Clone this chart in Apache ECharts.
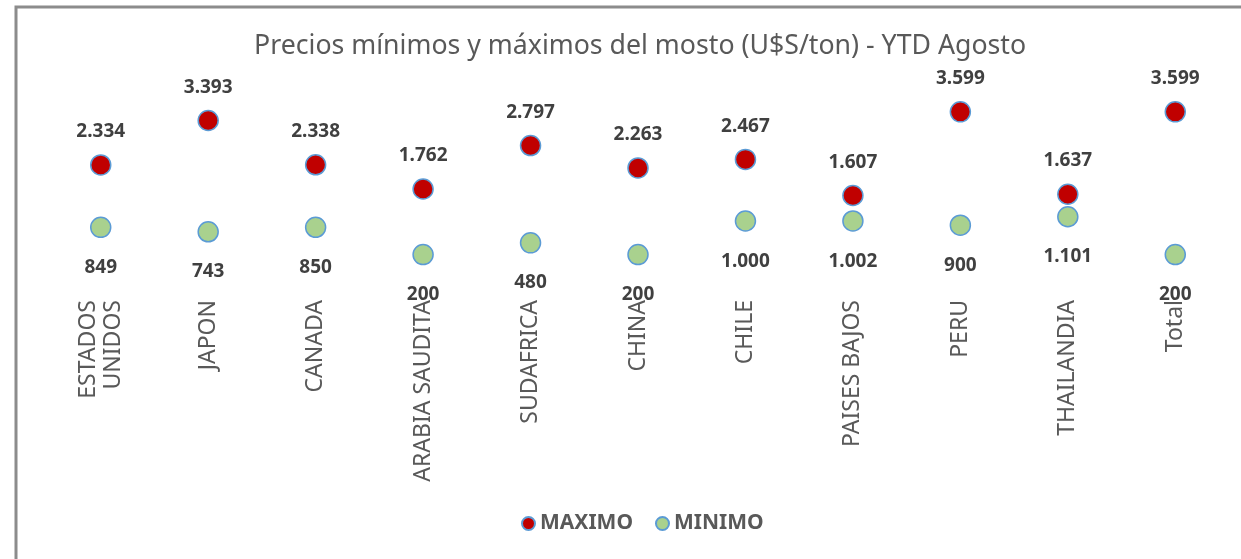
<!DOCTYPE html>
<html>
<head>
<meta charset="utf-8">
<script src="https://cdn.jsdelivr.net/npm/echarts@6/dist/echarts.min.js"></script>
<style>
html, body { margin: 0; padding: 0; background: #fff; }
#main { width: 1241px; height: 559px; }
</style>
</head>
<body>
<div id="main"></div>
<script type="text/javascript">
// datos del grafico
var paises = ['ESTADOS\nUNIDOS', 'JAPON', 'CANADA', 'ARABIA SAUDITA', 'SUDAFRICA', 'CHINA', 'CHILE', 'PAISES BAJOS', 'PERU', 'THAILANDIA', 'Total'];
var maximo = [2334, 3393, 2338, 1762, 2797, 2263, 2467, 1607, 3599, 1637, 3599];
var minimo = [849, 743, 850, 200, 480, 200, 1000, 1002, 900, 1101, 200];

// separador de miles con punto
function fmt(p) {
	return String(p.value).replace(/\B(?=(\d{3})+(?!\d))/g, '.');
}

var myChart = echarts.init(document.getElementById('main'));
var option = {
	backgroundColor: '#fff',
	textStyle: { fontFamily: 'Noto Sans' },
	title: {
		text: 'Precios mínimos y máximos del mosto (U$S/ton) - YTD Agosto',
		left: 249,
		top: 28,
		textStyle: { fontSize: 26.7, fontWeight: 'normal', color: '#595959', fontFamily: 'Noto Sans' }
	},
	graphic: [{
		type: 'rect',
		shape: { x: 16, y: 7, width: 1240, height: 570 },
		style: { fill: 'none', stroke: '#8c8c8c', lineWidth: 3 },
		silent: true
	}],
	legend: {
		bottom: 20,
		left: 516,
		icon: 'circle',
		itemWidth: 13,
		itemHeight: 13,
		itemGap: 22,
		textStyle: { fontSize: 21, color: '#595959', fontWeight: 'bold' },
		data: ['MAXIMO', 'MINIMO']
	},
	grid: { left: 47, right: 12, top: 95, bottom: 296, containLabel: false },
	xAxis: {
		type: 'category',
		data: paises,
		axisLine: { show: false },
		axisTick: { show: false },
		splitLine: { show: false },
		axisLabel: {
			rotate: 90,
			margin: 37,
			interval: 0,
			fontSize: 23,
			lineHeight: 25,
			color: '#595959'
		}
	},
	yAxis: {
		type: 'value',
		min: 0,
		max: 4000,
		show: false
	},
	series: [{
		name: 'MAXIMO',
		type: 'scatter',
		data: maximo,
		symbolSize: 20,
		itemStyle: { color: '#C00000', borderColor: '#5B9BD5', borderWidth: 1.5, opacity: 1 },
		label: {
			show: true,
			position: 'top',
			distance: 13,
			fontSize: 19,
			fontWeight: 'bold',
			color: '#404040',
			formatter: fmt
		}
	}, {
		name: 'MINIMO',
		type: 'scatter',
		data: minimo,
		symbolSize: 20,
		itemStyle: { color: '#A9D18E', borderColor: '#5B9BD5', borderWidth: 1.5, opacity: 1 },
		label: {
			show: true,
			position: 'bottom',
			distance: 20,
			fontSize: 19,
			fontWeight: 'bold',
			color: '#404040',
			formatter: fmt
		}
	}]
};
myChart.setOption(option);
</script>
</body>
</html>
